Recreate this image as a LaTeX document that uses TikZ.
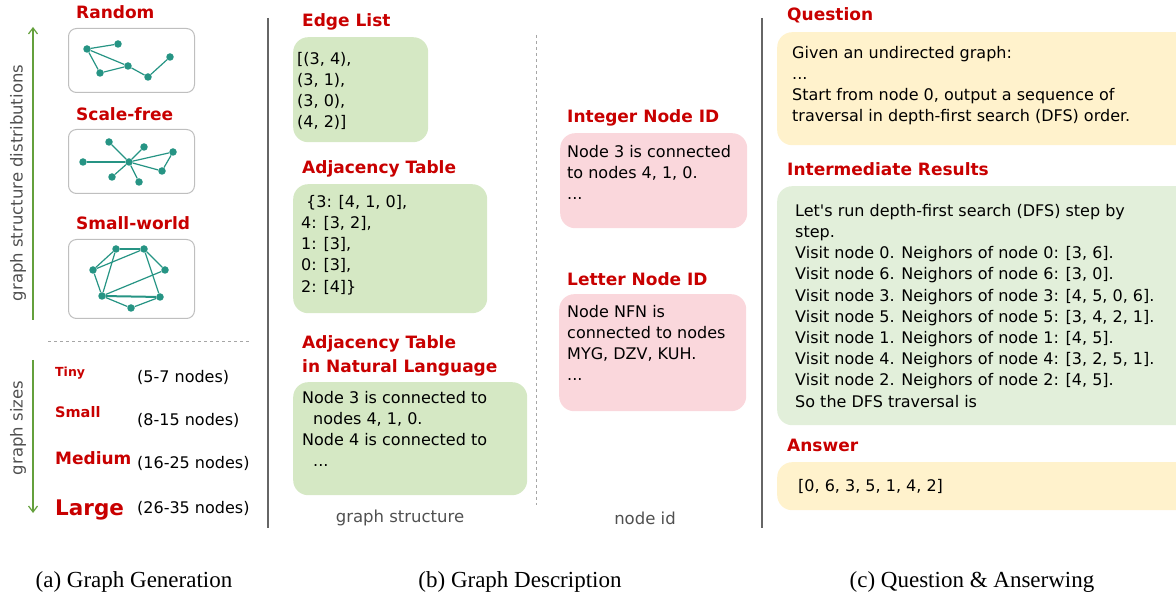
\documentclass[tikz,border=0pt]{standalone}
\usepackage{fontspec}
\setmainfont{DejaVu Sans}
\newfontfamily\capfont{Liberation Serif}
\usetikzlibrary{arrows.meta}
\definecolor{titred}{RGB}{200,0,0}
\definecolor{gteal}{RGB}{38,148,132}
\definecolor{cgreen}{RGB}{213,232,196}
\definecolor{cpink}{RGB}{250,215,220}
\definecolor{cyellow}{RGB}{255,242,204}
\definecolor{clgreen}{RGB}{226,239,218}
\definecolor{agreen}{RGB}{100,160,60}
\definecolor{lblgray}{RGB}{80,80,80}
\begin{document}
\begin{tikzpicture}[x=1pt,y=-1pt,
 title/.style={text=titred, font=\bfseries\fontsize{17}{24}\selectfont, anchor=base west, inner sep=0},
 body/.style={font=\fontsize{16}{21.2}\selectfont, align=left, anchor=north west, inner sep=0},
 card/.style={rounded corners=15, draw=none, anchor=north west, inner sep=0},
 gbox/.style={draw=black!25, line width=1, rounded corners=8, fill=white, anchor=north west, inner sep=0, minimum width=126},
 gv/.style={circle, fill=gteal, inner sep=0, minimum size=7.5},
 ge/.style={gteal, line width=1.2},
 gel/.style={gteal, line width=2},
 sepline/.style={draw=black!60, line width=1.5},
 lbl/.style={text=lblgray, font=\fontsize{16.5}{18}\selectfont, inner sep=0},
 captxt/.style={font=\capfont\fontsize{23}{26}\selectfont, inner sep=0},
 garrow/.style={agreen, line width=1.2, -{Straight Barb[length=6pt,width=9pt]}},
 szlbl/.style={anchor=base west, inner sep=0, text=titred},
 cnt/.style={anchor=base west, inner sep=0, font=\fontsize{16}{18}\selectfont}
]
\useasboundingbox (0,0) rectangle (1176,601);
\clip (0,0) rectangle (1176,601);

% ---------- (a) Graph generation ----------
\node[title] (tRandom) at (76,19) {Random};
\node[title] (tScale) at (76,121) {Scale-free};
\node[title] (tSmall) at (76,230) {Small-world};

\node[gbox, minimum height=64] (b1) at (68,28) {};
\node[gbox, minimum height=64] (b2) at (68,129) {};
\node[gbox, minimum height=79] (b3) at (68,239) {};

% random graph
\node[gv] (r1) at (87,49) {};
\node[gv] (r2) at (118,44) {};
\node[gv] (r3) at (128,66) {};
\node[gv] (r4) at (100,73) {};
\node[gv] (r5) at (148,77) {};
\node[gv] (r6) at (170,57) {};
\draw[ge] (r1) -- (r2);
\draw[ge] (r1) -- (r4);
\draw[ge] (r1) -- (r3);
\draw[ge] (r4) -- (r3);
\draw[ge] (r3) -- (r5);
\draw[ge] (r5) -- (r6);

% scale-free graph
\node[gv] (h) at (129,162) {};
\node[gv] (s1) at (83,162) {};
\node[gv] (s2) at (109,142) {};
\node[gv] (s3) at (144,147) {};
\node[gv] (s4) at (173,152) {};
\node[gv] (s5) at (162,171) {};
\node[gv] (s6) at (112,177) {};
\node[gv] (s7) at (139,182) {};
\draw[gel] (h) -- (s1);
\draw[ge] (h) -- (s2);
\draw[ge] (h) -- (s3);
\draw[ge] (h) -- (s4);
\draw[ge] (h) -- (s5);
\draw[ge] (h) -- (s6);
\draw[ge] (h) -- (s7);
\draw[ge] (s4) -- (s5);

% small-world graph
\node[gv] (w1) at (116,249) {};
\node[gv] (w2) at (144,249) {};
\node[gv] (w3) at (93,270) {};
\node[gv] (w4) at (165,270) {};
\node[gv] (w5) at (102,296) {};
\node[gv] (w6) at (160,297) {};
\node[gv] (w7) at (131,308) {};
\draw[gel] (w1) -- (w2);
\draw[ge] (w1) -- (w3);
\draw[ge] (w3) -- (w2);
\draw[ge] (w1) -- (w5);
\draw[ge] (w2) -- (w4);
\draw[ge] (w2) -- (w6);
\draw[ge] (w3) -- (w5);
\draw[ge] (w4) -- (w5);
\draw[gel] (w5) -- (w6);
\draw[ge] (w5) -- (w7);
\draw[ge] (w7) -- (w6);

% arrows and rotated labels
\coordinate (a1s) at (33,320);
\coordinate (a1e) at (33,27);
\draw[garrow] (a1s) -- (a1e);
\node[lbl, rotate=90] (gsd) at (18,183) {graph structure distributions};
\coordinate (a2s) at (33,360);
\coordinate (a2e) at (33,513);
\draw[garrow] (a2s) -- (a2e);
\node[lbl, rotate=90] (gsz) at (18,428) {graph sizes};

\coordinate (h1) at (48,342);
\coordinate (h2) at (250,342);
\draw[dashed, black!35, line width=1] (h1) -- (h2);

\node[szlbl, font=\bfseries\fontsize{12.5}{14}\selectfont] (tiny) at (55,377) {Tiny};
\node[szlbl, font=\bfseries\fontsize{14.5}{16}\selectfont] (small) at (55,418) {Small};
\node[szlbl, font=\bfseries\fontsize{17}{18}\selectfont] (medium) at (55,465) {Medium};
\node[szlbl, font=\bfseries\fontsize{21.5}{24}\selectfont] (large) at (55,515) {Large};
\node[cnt] (c1) at (137,383) {(5-7 nodes)};
\node[cnt] (c2) at (137,426) {(8-15 nodes)};
\node[cnt] (c3) at (137,469) {(16-25 nodes)};
\node[cnt] (c4) at (137,513) {(26-35 nodes)};

% separators
\coordinate (sa1) at (268,18);
\coordinate (sa2) at (268,528);
\draw[sepline] (sa1) -- (sa2);
\coordinate (sb1) at (762,18);
\coordinate (sb2) at (762,528);
\draw[sepline] (sb1) -- (sb2);

% ---------- (b) Graph description ----------
\node[title] (tEdge) at (302,27) {Edge List};
\node[card, fill=cgreen, minimum width=135, minimum height=105] (bEdge) at (293,37) {};
\node[body] (xEdge) at (297,52) {[(3, 4),\\(3, 1),\\(3, 0),\\(4, 2)]};

\node[title] (tAdj) at (302,174) {Adjacency Table};
\node[card, fill=cgreen, minimum width=194, minimum height=129] (bAdj) at (293,184) {};
\node[body] (xAdj) at (301,195) {\hspace*{5pt}\{3: [4, 1, 0],\\4: [3, 2],\\1: [3],\\0: [3],\\2: [4]\}};

\node[title, anchor=north west, align=left] (tNL) at (302,335) {Adjacency Table\\in Natural Language};
\node[card, fill=cgreen, minimum width=234, minimum height=113] (bNL) at (293,382) {};
\node[body] (xNL) at (302,391) {Node 3 is connected to\\\hspace*{11pt}nodes 4, 1, 0.\\Node 4 is connected to\\\hspace*{11pt}...};

\node[lbl] (lgs) at (400,518) {graph structure};

\coordinate (d1) at (536,35);
\coordinate (d2) at (536,505);
\draw[dashed, black!35, line width=1] (d1) -- (d2);

\node[title] (tInt) at (567,123) {Integer Node ID};
\node[card, fill=cpink, minimum width=187, minimum height=95] (bInt) at (560,133) {};
\node[body] (xInt) at (567,145) {Node 3 is connected\\to nodes 4, 1, 0.\\...};

\node[title] (tLet) at (567,286) {Letter Node ID};
\node[card, fill=cpink, minimum width=187, minimum height=117] (bLet) at (559,294) {};
\node[body] (xLet) at (567,305) {Node NFN is\\connected to nodes\\MYG, DZV, KUH.\\...};

\node[lbl] (lid) at (645,518) {node id};

% ---------- (c) Question & answering ----------
\node[title] (tQ) at (787,21) {Question};
\node[card, fill=cyellow, minimum width=420, minimum height=113] (bQ) at (777,32) {};
\node[body] (xQ) at (792,46) {Given an undirected graph:\\...\\Start from node 0, output a sequence of\\traversal in depth-first search (DFS) order.};

\node[title] (tIR) at (787,176) {Intermediate Results};
\node[card, fill=clgreen, minimum width=420, minimum height=239] (bIR) at (777,186) {};
\node[body] (xIR) at (795,204) {Let\textquotesingle s run depth-first search (DFS) step by\\step.\\Visit node 0. Neighors of node 0: [3, 6].\\Visit node 6. Neighors of node 6: [3, 0].\\Visit node 3. Neighors of node 3: [4, 5, 0, 6].\\Visit node 5. Neighors of node 5: [3, 4, 2, 1].\\Visit node 1. Neighors of node 1: [4, 5].\\Visit node 4. Neighors of node 4: [3, 2, 5, 1].\\Visit node 2. Neighors of node 2: [4, 5].\\So the DFS traversal is};

\node[title] (tA) at (787,452) {Answer};
\node[card, fill=cyellow, minimum width=420, minimum height=48] (bA) at (777,462) {};
\node[body] (xA) at (798,479) {[0, 6, 3, 5, 1, 4, 2]};

% captions
\node[captxt] (capa) at (134,582) {(a) Graph Generation};
\node[captxt] (capb) at (520,582) {(b) Graph Description};
\node[captxt] (capc) at (972,582) {(c) Question \& Anserwing};
\end{tikzpicture}
\end{document}
